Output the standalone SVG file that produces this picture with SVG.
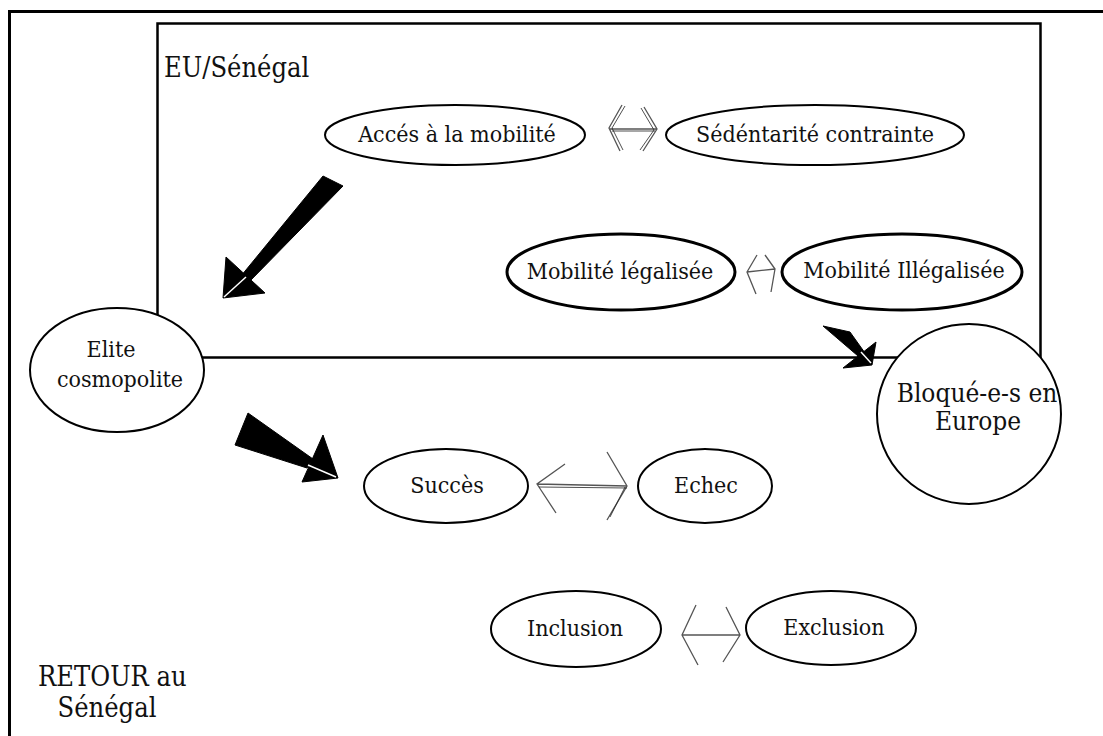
<svg xmlns="http://www.w3.org/2000/svg" width="1103" height="736" viewBox="0 0 1103 736">
  <style>
    .node ellipse { fill: #fff; stroke: #000; stroke-width: 2; }
    .node.bold ellipse { stroke-width: 3; }
    text { font-family: "DejaVu Serif Condensed", "DejaVu Serif", "Liberation Serif", serif; font-stretch: condensed; font-size: 23px; fill: #111; }
    .mid { text-anchor: middle; }
    .big { font-size: 27px; }
    .large { font-size: 26px; }
    .frame { fill: none; stroke: #000; stroke-width: 3; }
    .inner { fill: none; stroke: #000; stroke-width: 2.5; }
    .thin { fill: none; stroke: #555; stroke-width: 1.3; stroke-linejoin: miter; }
    .thin2 { fill: none; stroke: #222; stroke-width: 0.8; }
    .solid { fill: #000; stroke: #000; stroke-width: 1; stroke-linejoin: round; }
    .notch { stroke: #fff; stroke-width: 1.5; }
  </style>

  <rect width="1103" height="736" fill="#fff"/>

  <!-- outer frame: top and left edges only -->
  <path class="frame" d="M9.5,736 V11.5 H1103"/>

  <!-- EU / Sénégal box -->
  <rect class="inner" x="157.5" y="23.5" width="883" height="334"/>
  <text class="big" x="164" y="77">EU/Sénégal</text>

  <g id="node-acces" class="node">
    <ellipse cx="455" cy="135" rx="130" ry="30"/>
    <text class="mid" x="457" y="142">Accés à la mobilité</text>
  </g>
  <g id="node-sedentarite" class="node">
    <ellipse cx="815" cy="135" rx="149" ry="30"/>
    <text class="mid" x="815" y="142">Sédéntarité contrainte</text>
  </g>
  <g id="node-legalisee" class="node bold">
    <ellipse cx="621" cy="272" rx="114" ry="38"/>
    <text class="mid" x="620" y="279">Mobilité légalisée</text>
  </g>
  <g id="node-illegalisee" class="node bold">
    <ellipse cx="902" cy="272" rx="120" ry="38"/>
    <text class="mid" x="904" y="278">Mobilité Illégalisée</text>
  </g>
  <g id="node-elite" class="node">
    <ellipse cx="117" cy="370" rx="87" ry="62"/>
    <text class="mid" x="111" y="357">Elite</text>
    <text class="mid" x="120" y="387">cosmopolite</text>
  </g>
  <g id="node-bloque" class="node">
    <ellipse cx="969" cy="414" rx="92" ry="90"/>
    <text class="mid large" x="977" y="402">Bloqué-e-s en</text>
    <text class="mid large" x="978" y="430">Europe</text>
  </g>
  <g id="node-succes" class="node">
    <ellipse cx="446" cy="486" rx="82" ry="37"/>
    <text class="mid" x="447" y="493">Succès</text>
  </g>
  <g id="node-echec" class="node">
    <ellipse cx="705" cy="486" rx="67" ry="37"/>
    <text class="mid" x="706" y="493">Echec</text>
  </g>
  <g id="node-inclusion" class="node">
    <ellipse cx="576" cy="629" rx="85" ry="38"/>
    <text class="mid" x="575" y="636">Inclusion</text>
  </g>
  <g id="node-exclusion" class="node">
    <ellipse cx="831" cy="628" rx="85" ry="37"/>
    <text class="mid" x="834" y="635">Exclusion</text>
  </g>

  <text class="big" x="38" y="686">RETOUR au</text>
  <text class="big mid" x="107" y="717">Sénégal</text>

  <g id="connectors">
    <!-- block arrow: EU/Sénégal towards Elite cosmopolite -->
    <polygon class="solid" points="323,176 343,186 250,281 241,276"/>
    <polygon class="solid" points="226,257 265,293 223,298"/>
    <line class="notch" x1="224" y1="297" x2="246" y2="277"/>

    <!-- block arrow: Elite cosmopolite towards Succès -->
    <polygon class="solid" points="248,413 235,445 307,468 313,459"/>
    <polygon class="solid" points="323,435 338,478 302,482"/>
    <line class="notch" x1="336" y1="477" x2="308" y2="465"/>

    <!-- small block arrow: Mobilité Illégalisée towards Bloqué-e-s en Europe -->
    <polygon class="solid" points="823,326 850,332 865,353 858,356"/>
    <polygon class="solid" points="876,342 872,365 843,368"/>
    <line class="notch" x1="871" y1="363" x2="861" y2="352"/>

    <!-- two-headed arrow: Accés / Sédéntarité -->
    <path class="thin" d="M622,105 L609,128 L620,151 M609,129 H657 M644,107 L657,129 L643,151"/>
    <path class="thin2" d="M625,106 L612,128 L623,150 M612,131 H655 M641,108 L654,130 L640,150"/>

    <!-- two-headed arrow: légalisée / Illégalisée -->
    <path class="thin" d="M757,255 L747,272 L756,294 M747,272 L775,269 M765,255 L775,269 L771,292"/>

    <!-- two-headed arrow: Succès / Echec -->
    <path class="thin" d="M565,464 L537,484 L556,513 M537,484 L627,486 M607,452 L627,486 L607,520"/>
    <path class="thin2" d="M539,487 L627,488 M625,487 L610,517"/>

    <!-- two-headed arrow: Inclusion / Exclusion -->
    <path class="thin" d="M696,605 L682,635 L698,665 M682,635 H740 M726,607 L740,635 L723,662"/>
  </g>
</svg>
